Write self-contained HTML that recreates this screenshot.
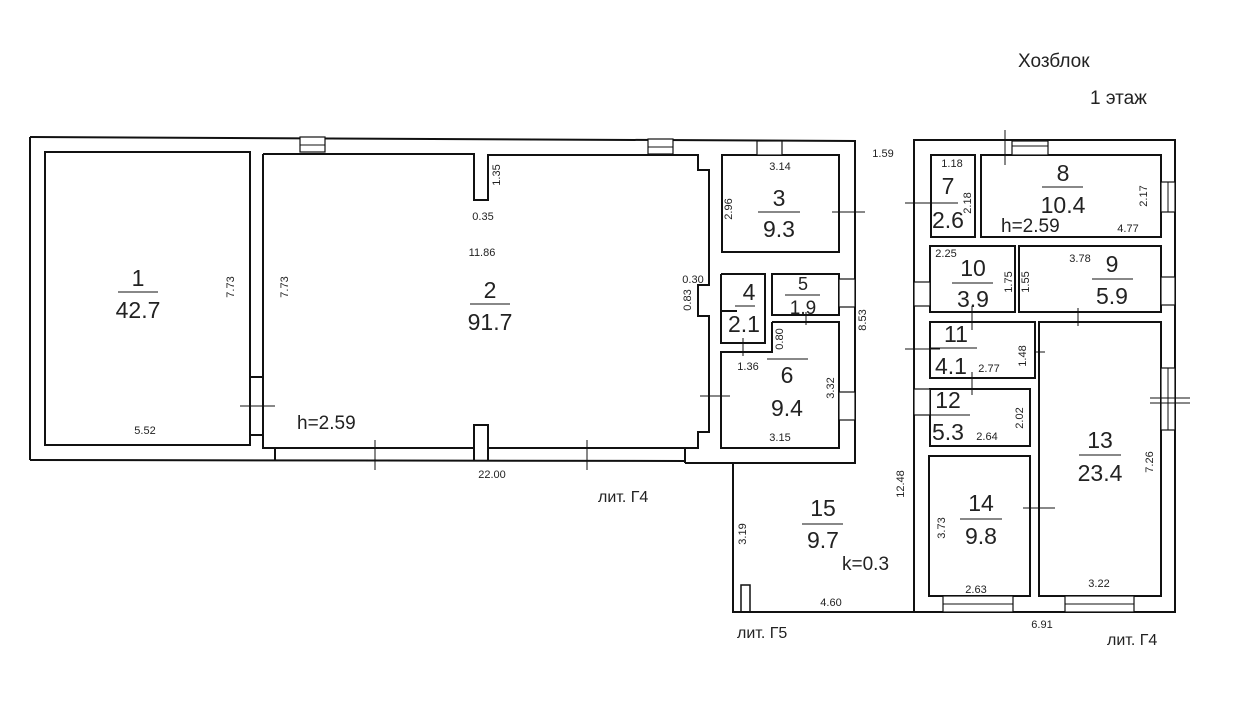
<!DOCTYPE html>
<html><head><meta charset="utf-8"><style>
html,body{margin:0;padding:0;background:#fff}
svg{display:block}
text{font-family:"Liberation Sans",sans-serif;fill:#222}
.b{font-size:23px}
.s{font-size:11px}
.m{font-size:19px}
</style></head><body>
<svg width="1254" height="720" viewBox="0 0 1254 720" xmlns="http://www.w3.org/2000/svg">
<g fill="none" stroke="#111" stroke-width="2">
<polyline points="30,137 855,141 855,463 685,463"/>
<line x1="30" y1="137" x2="30" y2="460"/>
<line x1="30" y1="460" x2="685" y2="461"/>
<rect x="45" y="152" width="205" height="293"/>
<polyline points="263,154 474,154 474,200 488,200 488,155 698,155 698,170 709,170 709,285 698,285 698,316 709,316 709,432 698,432 698,448 488,448 488,425 474,425 474,448 263,448 263,154"/>
<line x1="474" y1="448" x2="474" y2="461"/><line x1="488" y1="448" x2="488" y2="461"/>
<line x1="250" y1="377" x2="263" y2="377"/><line x1="250" y1="435" x2="263" y2="435"/>
<line x1="275" y1="448" x2="275" y2="461"/><line x1="685" y1="448" x2="685" y2="463"/>
<rect x="722" y="155" width="117" height="97"/>
<polyline points="721,274 765,274 765,343 721,343 721,274"/>
<line x1="721" y1="311" x2="737" y2="311"/>
<rect x="772" y="274" width="67" height="41"/>
<polyline points="772,322 839,322 839,448 721,448 721,352 772,352 772,322"/>
<polyline points="733,463 733,612 914,612"/>
<rect x="914" y="140" width="261" height="472"/>
<rect x="931" y="155" width="44" height="82"/>
<rect x="981" y="155" width="180" height="82"/>
<rect x="930" y="246" width="85" height="66"/>
<rect x="1019" y="246" width="142" height="66"/>
<rect x="930" y="322" width="105" height="56"/>
<rect x="1039" y="322" width="122" height="274"/>
<rect x="930" y="389" width="100" height="57"/>
<rect x="929" y="456" width="101" height="140"/>
<rect x="741" y="585" width="9" height="27" stroke-width="1.5"/>
</g>
<g stroke="#111" stroke-width="1.2" fill="#fff">
<rect x="300" y="137" width="25" height="15"/><rect x="648" y="139" width="25" height="15"/>
<rect x="757" y="141" width="25" height="14"/>
<rect x="1012" y="141" width="36" height="14"/>
<rect x="1161" y="182" width="14" height="30"/><rect x="1161" y="277" width="14" height="28"/>
<rect x="1161" y="368" width="14" height="62"/>
<rect x="839" y="279" width="16" height="28"/><rect x="839" y="392" width="16" height="28"/>
<rect x="914" y="282" width="16" height="24"/><rect x="914" y="389" width="16" height="26"/>
<rect x="943" y="596" width="70" height="16"/><rect x="1065" y="596" width="69" height="16"/>
</g>
<g stroke="#111" stroke-width="1">
<line x1="300" y1="145" x2="325" y2="145"/><line x1="648" y1="147" x2="673" y2="147"/>
<line x1="1012" y1="146" x2="1048" y2="146"/>
<line x1="1168" y1="182" x2="1168" y2="212"/><line x1="1168" y1="368" x2="1168" y2="430"/>
<line x1="943" y1="604" x2="1013" y2="604"/><line x1="1065" y1="604" x2="1134" y2="604"/>
<line x1="1150" y1="398" x2="1190" y2="398"/><line x1="1150" y1="403" x2="1190" y2="403"/>
<line x1="1005" y1="130" x2="1005" y2="165"/>
<line x1="905" y1="203" x2="958" y2="203"/><line x1="905" y1="349" x2="940" y2="349"/>
<line x1="832" y1="212" x2="865" y2="212"/><line x1="240" y1="406" x2="275" y2="406"/>
<line x1="700" y1="396" x2="730" y2="396"/>
<line x1="375" y1="440" x2="375" y2="470"/><line x1="587" y1="440" x2="587" y2="470"/>
<line x1="1023" y1="508" x2="1055" y2="508"/><line x1="1030" y1="488" x2="1030" y2="528"/>
<line x1="1035" y1="352" x2="1045" y2="352"/>
<line x1="1078" y1="308" x2="1078" y2="326"/><line x1="972" y1="306" x2="972" y2="330"/>
<line x1="972" y1="372" x2="972" y2="395"/>
<line x1="806" y1="312" x2="806" y2="325"/><line x1="743" y1="338" x2="743" y2="356"/>
</g>
<g stroke="#111" stroke-width="1">
<line x1="118" y1="292" x2="158" y2="292"/><line x1="470" y1="304" x2="510" y2="304"/>
<line x1="758" y1="212" x2="800" y2="212"/><line x1="735" y1="306" x2="755" y2="306"/>
<line x1="785" y1="295" x2="820" y2="295"/><line x1="767" y1="359" x2="808" y2="359"/>
<line x1="1042" y1="187" x2="1083" y2="187"/><line x1="1092" y1="279" x2="1133" y2="279"/>
<line x1="952" y1="283" x2="993" y2="283"/><line x1="930" y1="348" x2="977" y2="348"/>
<line x1="930" y1="415" x2="970" y2="415"/><line x1="1079" y1="455" x2="1121" y2="455"/>
<line x1="960" y1="519" x2="1002" y2="519"/><line x1="802" y1="524" x2="843" y2="524"/>
</g>
<g class="b" text-anchor="middle">
<text x="138" y="286">1</text><text x="138" y="318">42.7</text>
<text x="490" y="298">2</text><text x="490" y="330">91.7</text>
<text x="779" y="206">3</text><text x="779" y="237">9.3</text>
<text x="749" y="300">4</text><text x="744" y="332">2.1</text>
<text x="803" y="290" style="font-size:18px">5</text><text x="803" y="314" style="font-size:19px">1.9</text>
<text x="787" y="383">6</text><text x="787" y="416">9.4</text>
<text x="948" y="194">7</text><text x="948" y="228">2.6</text>
<text x="1063" y="181">8</text><text x="1063" y="213">10.4</text>
<text x="1112" y="272">9</text><text x="1112" y="304">5.9</text>
<text x="973" y="276">10</text><text x="973" y="307">3.9</text>
<text x="956" y="342">11</text><text x="951" y="374">4.1</text>
<text x="948" y="408">12</text><text x="948" y="440">5.3</text>
<text x="1100" y="448">13</text><text x="1100" y="481">23.4</text>
<text x="981" y="511">14</text><text x="981" y="544">9.8</text>
<text x="823" y="516">15</text><text x="823" y="548">9.7</text>
</g>
<g class="m">
<text x="297" y="429">h=2.59</text>
<text x="1001" y="232">h=2.59</text>
<text x="842" y="570">k=0.3</text>
<text x="1018" y="67">Хозблок</text>
<text x="1090" y="104">1 этаж</text>
<text x="598" y="502" style="font-size:16px">лит. Г4</text>
<text x="737" y="638" style="font-size:16px">лит. Г5</text>
<text x="1107" y="645" style="font-size:16px">лит. Г4</text>
</g>
<g class="s" text-anchor="middle">
<text x="145" y="434">5.52</text>
<text x="483" y="220">0.35</text>
<text x="482" y="256">11.86</text>
<text x="693" y="283">0.30</text>
<text x="492" y="478">22.00</text>
<text x="780" y="170">3.14</text>
<text x="780" y="441">3.15</text>
<text x="748" y="370">1.36</text>
<text x="883" y="157">1.59</text>
<text x="952" y="167">1.18</text>
<text x="1128" y="232">4.77</text>
<text x="946" y="257">2.25</text>
<text x="1080" y="262">3.78</text>
<text x="989" y="372">2.77</text>
<text x="987" y="440">2.64</text>
<text x="976" y="593">2.63</text>
<text x="1099" y="587">3.22</text>
<text x="831" y="606">4.60</text>
<text x="1042" y="628">6.91</text>
</g>
<g class="s" text-anchor="middle">
<text transform="translate(234,287) rotate(-90)">7.73</text>
<text transform="translate(288,287) rotate(-90)">7.73</text>
<text transform="translate(500,175) rotate(-90)">1.35</text>
<text transform="translate(691,300) rotate(-90)">0.83</text>
<text transform="translate(732,209) rotate(-90)">2.96</text>
<text transform="translate(783,339) rotate(-90)">0.80</text>
<text transform="translate(834,388) rotate(-90)">3.32</text>
<text transform="translate(866,320) rotate(-90)">8.53</text>
<text transform="translate(971,203) rotate(-90)">2.18</text>
<text transform="translate(1147,196) rotate(-90)">2.17</text>
<text transform="translate(1012,282) rotate(-90)">1.75</text>
<text transform="translate(1029,282) rotate(-90)">1.55</text>
<text transform="translate(1026,356) rotate(-90)">1.48</text>
<text transform="translate(1023,418) rotate(-90)">2.02</text>
<text transform="translate(904,484) rotate(-90)">12.48</text>
<text transform="translate(746,534) rotate(-90)">3.19</text>
<text transform="translate(945,528) rotate(-90)">3.73</text>
<text transform="translate(1153,462) rotate(-90)">7.26</text>
</g>
</svg>
</body></html>
